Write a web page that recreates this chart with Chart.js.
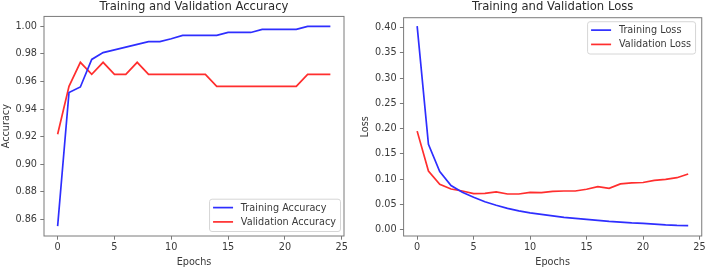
<!DOCTYPE html>
<html><head><meta charset="utf-8">
<script src="https://cdn.jsdelivr.net/npm/chart.js@4"></script>
<style>
html,body{margin:0;padding:0;background:#fff;width:708px;height:269px;overflow:hidden}
canvas{position:absolute;top:0}
#acc{left:0}
#loss{left:354px}
</style></head><body>
<canvas id="acc" width="354" height="269"></canvas>
<canvas id="loss" width="354" height="269"></canvas>
<script>
const epochs = [0,1,2,3,4,5,6,7,8,9,10,11,12,13,14,15,16,17,18,19,20,21,22,23,24];
const trainAcc = [0.855,0.952,0.956,0.976,0.981,0.983,0.985,0.987,0.989,0.989,0.991,0.9935,0.9935,0.9935,0.9935,0.9956,0.9956,0.9956,0.9978,0.9978,0.9978,0.9978,1.0,1.0,1.0];
const valAcc = [0.9217,0.9565,0.9739,0.9652,0.9739,0.9652,0.9652,0.9739,0.9652,0.9652,0.9652,0.9652,0.9652,0.9652,0.9565,0.9565,0.9565,0.9565,0.9565,0.9565,0.9565,0.9565,0.9652,0.9652,0.9652];
const trainLoss = [0.403,0.169,0.115,0.087,0.074,0.064,0.055,0.048,0.042,0.037,0.033,0.030,0.027,0.024,0.022,0.020,0.018,0.016,0.0145,0.013,0.012,0.0105,0.009,0.008,0.0076];
const valLoss = [0.195,0.116,0.0896,0.0803,0.0763,0.0710,0.0717,0.0745,0.0704,0.0704,0.0737,0.0730,0.0757,0.0763,0.0763,0.0797,0.0849,0.0817,0.0905,0.0925,0.0932,0.0975,0.0995,0.1027,0.110];
const xTicks = [0,5,10,15,20,25];
const accTicks = [0.86,0.88,0.90,0.92,0.94,0.96,0.98,1.00];
const lossTicks = [0.00,0.05,0.10,0.15,0.20,0.25,0.30,0.35,0.40];

const FONT = 'DejaVu Sans';
const SMALL = 9.7;
const BLUE = '#2e2eff';
const RED = '#ff2e2e';
const TEXT = '#3a3a3a';
const AXIS = '#7a7a7a';
Chart.defaults.font.family = FONT;
Chart.defaults.color = TEXT;

const framePlugin = {
  id: 'frame',
  afterDatasetsDraw(chart) {
    const a = chart.chartArea, ctx = chart.ctx;
    ctx.save();
    ctx.strokeStyle = AXIS;
    ctx.lineWidth = 1;
    ctx.strokeRect(a.left, a.top, a.right - a.left, a.bottom - a.top);
    ctx.restore();
  }
};

const boxLegend = {
  id: 'boxLegend',
  afterDraw(chart, args, opts) {
    const a = chart.chartArea, ctx = chart.ctx;
    ctx.save();
    ctx.font = SMALL + 'px "' + FONT + '"';
    const sets = chart.data.datasets;
    let tw = 0;
    sets.forEach(d => { tw = Math.max(tw, ctx.measureText(d.label).width); });
    const padL = 3.5, handle = 20, gap = 7.8, padR = 4.5;
    const w = padL + handle + gap + tw + padR;
    const rowH = 14.3, padT = 8.4, padB = 9.6;
    const h = padT + rowH * (sets.length - 1) + padB;
    let x, y;
    if (opts.corner === 'br') { x = a.right - opts.dx - w; y = a.bottom - opts.dy - h; }
    else { x = a.right - opts.dx - w; y = a.top + opts.dy; }
    ctx.beginPath();
    ctx.roundRect(x, y, w, h, 2.5);
    ctx.fillStyle = 'rgba(255,255,255,0.85)';
    ctx.fill();
    ctx.strokeStyle = '#d6d6d6';
    ctx.lineWidth = 1;
    ctx.stroke();
    sets.forEach((d, i) => {
      const cy = y + padT + rowH * i;
      ctx.beginPath();
      ctx.strokeStyle = d.borderColor;
      ctx.lineWidth = d.borderWidth;
      ctx.moveTo(x + padL, cy);
      ctx.lineTo(x + padL + handle, cy);
      ctx.stroke();
      ctx.fillStyle = TEXT;
      ctx.textBaseline = 'middle';
      ctx.textAlign = 'left';
      ctx.fillText(d.label, x + padL + handle + gap, cy + 0.5);
    });
    ctx.restore();
  }
};

function makeChart(id, cfg) {
  return new Chart(document.getElementById(id), {
    type: 'line',
    data: {
      labels: epochs,
      datasets: [
        { label: cfg.names[0], data: cfg.series[0], borderColor: BLUE, borderWidth: 1.7, pointRadius: 0, tension: 0, fill: false },
        { label: cfg.names[1], data: cfg.series[1], borderColor: RED, borderWidth: 1.7, pointRadius: 0, tension: 0, fill: false }
      ]
    },
    options: {
      responsive: false,
      animation: false,
      events: [],
      layout: { padding: { left: 0, right: cfg.padRight, top: 0, bottom: 0 } },
      plugins: {
        legend: { display: false },
        tooltip: { enabled: false },
        title: {
          display: true, text: cfg.title, fullSize: false,
          font: { size: 11.6, weight: 'normal', family: FONT }, color: '#2a2a2a',
          padding: { top: 0.3, bottom: cfg.titleBottom }
        },
        boxLegend: cfg.legend
      },
      scales: {
        x: {
          type: 'linear', min: -1.2, max: 25.2,
          afterBuildTicks: s => { s.ticks = xTicks.map(v => ({ value: v })); },
          afterFit: s => { s.height = 33; },
          ticks: { autoSkip: false, maxRotation: 0, padding: 2.3, font: { size: SMALL }, color: TEXT, callback: v => String(v) },
          grid: { display: true, drawOnChartArea: false, drawTicks: true, tickLength: 3.7, color: AXIS },
          border: { display: false },
          title: { display: true, text: 'Epochs', font: { size: SMALL }, color: TEXT, padding: { top: 0, bottom: 1 } }
        },
        y: {
          type: 'linear', min: cfg.yMin, max: cfg.yMax,
          afterBuildTicks: s => { s.ticks = cfg.yTicks.map(v => ({ value: v })); },
          afterFit: s => { s.width = cfg.yWidth; },
          ticks: { autoSkip: false, padding: 3.3, font: { size: SMALL }, color: TEXT, callback: v => Number(v).toFixed(2) },
          grid: { display: true, drawOnChartArea: false, drawTicks: true, tickLength: 3.7, color: AXIS },
          border: { display: false },
          title: { display: true, text: cfg.yTitle, font: { size: SMALL }, color: TEXT, padding: { top: cfg.yTitlePad, bottom: 0 } }
        }
      }
    },
    plugins: [framePlugin, boxLegend]
  });
}

makeChart('acc', {
  names: ['Training Accuracy', 'Validation Accuracy'],
  series: [trainAcc, valAcc],
  title: 'Training and Validation Accuracy',
  yTitle: 'Accuracy', yTicks: accTicks, yMin: 0.8478, yMax: 1.00725,
  yWidth: 44, yTitlePad: 0.2, padRight: 10, titleBottom: 2.2,
  legend: { corner: 'br', dx: 3.5, dy: 4.5 }
});

makeChart('loss', {
  names: ['Training Loss', 'Validation Loss'],
  series: [trainLoss, valLoss],
  title: 'Training and Validation Loss',
  yTitle: 'Loss', yTicks: lossTicks, yMin: -0.0129, yMax: 0.4198,
  yWidth: 49.6, yTitlePad: 5.9, padRight: 4.5, titleBottom: 3.5,
  legend: { corner: 'tr', dx: 6.2, dy: 4 }
});
</script>
</body></html>
